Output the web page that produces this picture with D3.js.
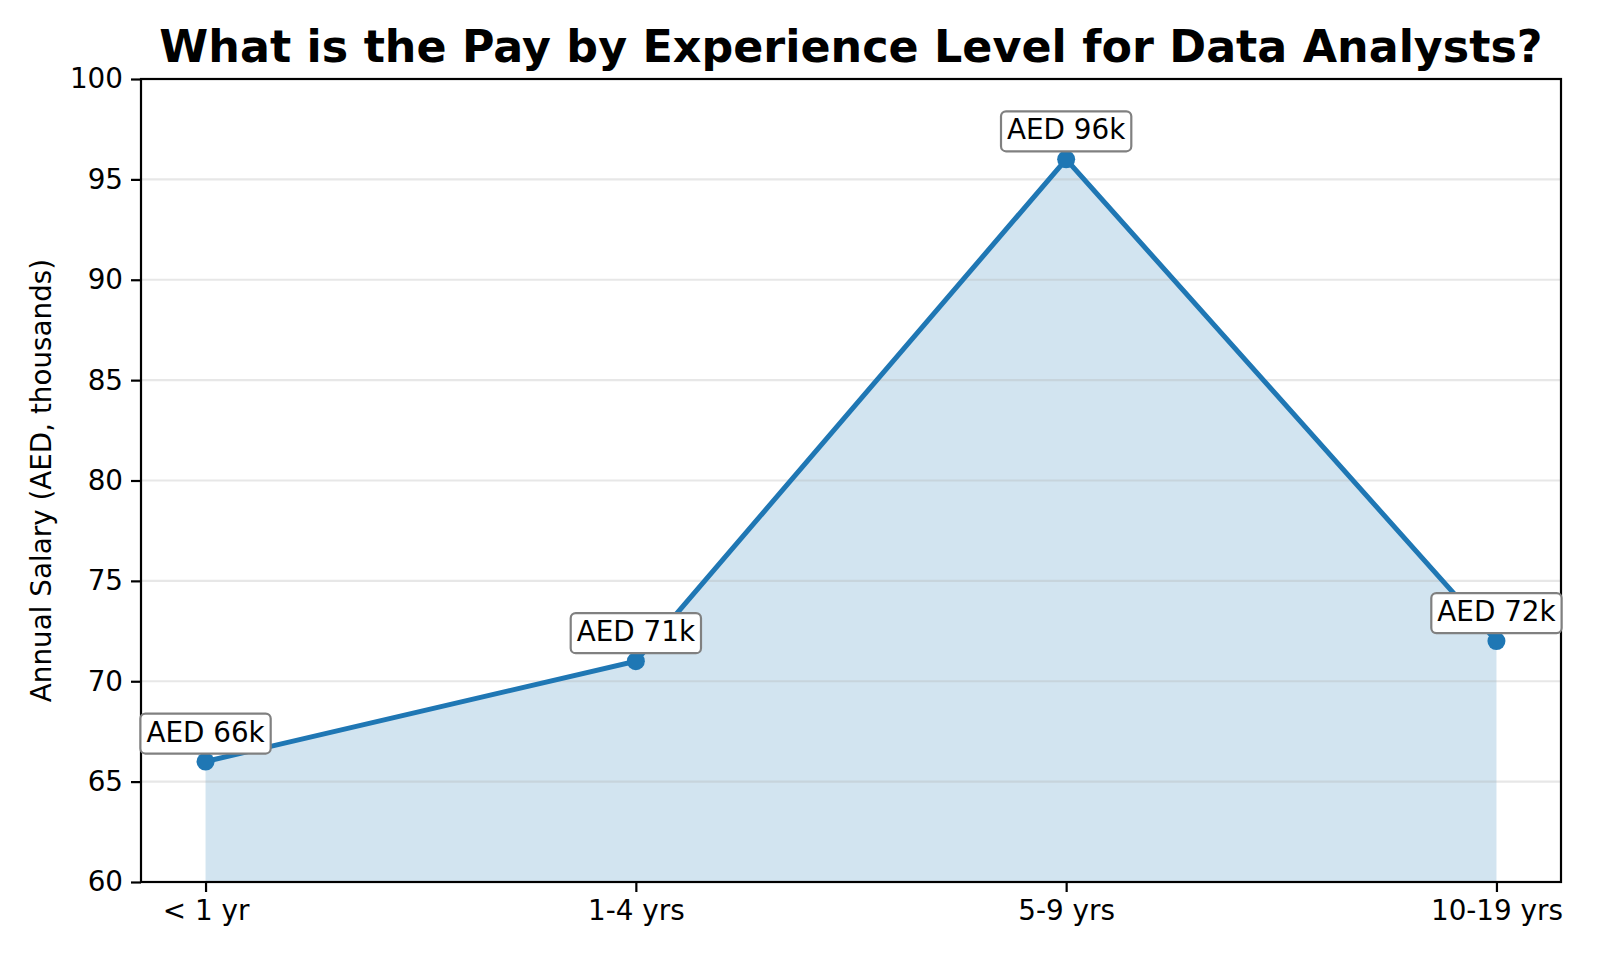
<!DOCTYPE html>
<html>
<head>
<meta charset="utf-8">
<script src="https://cdn.jsdelivr.net/npm/d3@7"></script>
<style>
  body { margin: 0; background: #fff; }
  svg { font-family: "DejaVu Sans", sans-serif; }
</style>
</head>
<body>
<div class="container"></div>
<script>
const levels = ["< 1 yr", "1-4 yrs", "5-9 yrs", "10-19 yrs"];
const salaries = [66, 71, 96, 72];
const labels = ["AED 66k", "AED 71k", "AED 96k", "AED 72k"];
const yTicks = [60, 65, 70, 75, 80, 85, 90, 95, 100];

const w = 1600;
const h = 960;
const plotLeft = 141, plotRight = 1561, plotTop = 79, plotBottom = 882;
const blue = "#1f77b4";

const dataset = levels.map((d, i) => ({ level: d, value: salaries[i], label: labels[i] }));

// x: index positions with matplotlib-like 5% margins
const xScale = d3.scaleLinear()
                 .domain([-0.15, levels.length - 1 + 0.15])
                 .range([plotLeft, plotRight]);
const yScale = d3.scaleLinear()
                 .domain([60, 100])
                 .range([plotBottom, plotTop]);

const svg = d3.select(".container")
              .append("svg")
              .attr("width", w)
              .attr("height", h);

// Area under the line
const area = d3.area()
               .x((d, i) => xScale(i))
               .y0(yScale(60))
               .y1(d => yScale(d.value));
svg.append("path")
   .datum(dataset)
   .attr("d", area)
   .attr("fill", blue)
   .attr("fill-opacity", 0.2);

// Horizontal grid
svg.append("g")
   .selectAll("line")
   .data(yTicks.filter(t => t > 60 && t < 100))
   .enter()
   .append("line")
   .attr("x1", plotLeft)
   .attr("x2", plotRight)
   .attr("y1", d => yScale(d))
   .attr("y2", d => yScale(d))
   .attr("stroke", "#b0b0b0")
   .attr("stroke-opacity", 0.3)
   .attr("stroke-width", 2.2);

// Line and markers
const line = d3.line()
               .x((d, i) => xScale(i))
               .y(d => yScale(d.value));
svg.append("path")
   .datum(dataset)
   .attr("d", line)
   .attr("fill", "none")
   .attr("stroke", blue)
   .attr("stroke-width", 5);

svg.selectAll("circle")
   .data(dataset)
   .enter()
   .append("circle")
   .attr("cx", (d, i) => xScale(i))
   .attr("cy", d => yScale(d.value))
   .attr("r", 9)
   .attr("fill", blue);

// Axes
const xAxis = d3.axisBottom(xScale)
                .tickValues(d3.range(levels.length))
                .tickFormat(i => levels[i])
                .tickSize(10)
                .tickPadding(8);
const yAxis = d3.axisLeft(yScale)
                .tickValues(yTicks)
                .tickFormat(d3.format("d"))
                .tickSize(10)
                .tickPadding(8);

const gx = svg.append("g")
              .attr("transform", `translate(0, ${plotBottom})`)
              .call(xAxis);
const gy = svg.append("g")
              .attr("transform", `translate(${plotLeft}, 0)`)
              .call(yAxis);

[gx, gy].forEach(g => {
  g.select(".domain").remove();
  g.selectAll("line").attr("stroke", "#000").attr("stroke-width", 2.2);
  g.selectAll("text")
   .attr("fill", "#000")
   .style("font-size", "27.8px")
   .style("font-family", "DejaVu Sans");
});

// Frame
svg.append("rect")
   .attr("x", plotLeft)
   .attr("y", plotTop)
   .attr("width", plotRight - plotLeft)
   .attr("height", plotBottom - plotTop)
   .attr("fill", "none")
   .attr("stroke", "#000")
   .attr("stroke-width", 2.2);

// Value annotations
const notes = svg.append("g")
                 .selectAll("g")
                 .data(dataset)
                 .enter()
                 .append("g")
                 .attr("transform", (d, i) => `translate(${xScale(i)}, ${yScale(d.value) - 20})`);

notes.append("rect")
     .attr("fill", "#fff")
     .attr("stroke", "#808080")
     .attr("stroke-width", 2.2)
     .attr("rx", 5)
     .attr("ry", 5);

notes.append("text")
     .attr("text-anchor", "middle")
     .style("font-size", "27.8px")
     .attr("fill", "#000")
     .text(d => d.label);

notes.each(function () {
  const g = d3.select(this);
  const tw = g.select("text").node().getComputedTextLength();
  g.select("rect")
   .attr("x", -tw / 2 - 6)
   .attr("y", -28)
   .attr("width", tw + 12)
   .attr("height", 40);
});

// Title and y label
svg.append("text")
   .attr("x", (plotLeft + plotRight) / 2)
   .attr("y", 62)
   .attr("text-anchor", "middle")
   .style("font-size", "44.4px")
   .style("font-weight", "bold")
   .text("What is the Pay by Experience Level for Data Analysts?");

svg.append("text")
   .attr("transform", `translate(51, ${(plotTop + plotBottom) / 2}) rotate(-90)`)
   .attr("text-anchor", "middle")
   .style("font-size", "27.8px")
   .text("Annual Salary (AED, thousands)");
</script>
</body>
</html>
